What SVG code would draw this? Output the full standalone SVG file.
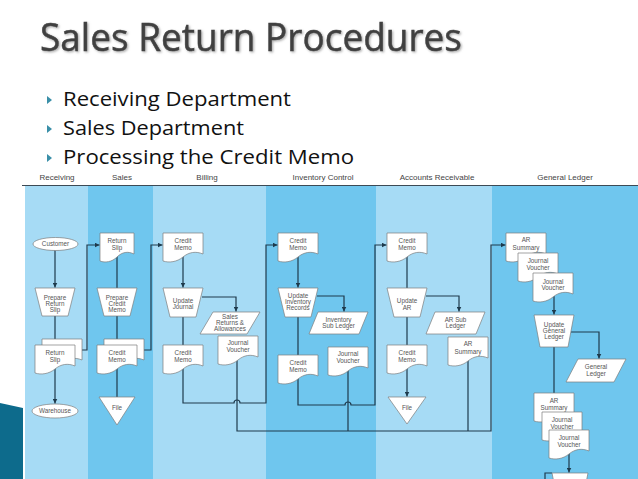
<svg xmlns="http://www.w3.org/2000/svg" xmlns:xlink="http://www.w3.org/1999/xlink" width="638" height="479" viewBox="0 0 638 479">
<style>
.title{font-family:"Open Sans","DejaVu Sans",sans-serif;font-size:39px;fill:#404040;stroke:#404040;stroke-width:0.5}
.bul{font-family:"Open Sans","DejaVu Sans",sans-serif;font-size:20.5px;fill:#111}
.hdr{font-family:"Liberation Sans",Arial,sans-serif;font-size:8px;fill:#444;text-anchor:middle}
.lbl{font-family:"Liberation Sans",Arial,sans-serif;font-size:6.3px;fill:#555;text-anchor:middle}
.node{fill:#fff;stroke:#7c7c7c;stroke-width:0.7}
.conn{fill:none;stroke:#1e3a4c;stroke-width:1.2}
.lane-l{fill:#a6dbf5}
.lane-d{fill:#6fc6ee}
</style>
<defs>
<filter id="shadow" x="-5%" y="-20%" width="110%" height="140%">
<feDropShadow dx="1.2" dy="1.2" stdDeviation="0.8" flood-color="#888" flood-opacity="0.7"/>
</filter>
<marker id="arr" markerUnits="userSpaceOnUse" markerWidth="5" markerHeight="5" viewBox="0 0 10 10" refX="10" refY="5" orient="auto">
<path d="M0,0 L10,5 L0,10 z" fill="#1e3a4c"/>
</marker>
<path id="doc" d="M0,0 H40 V21 C33,18 26,19 20,24 C14,29 6,30 0,28 Z"/>
</defs>

<rect width="638" height="479" fill="#fff"/>

<g id="title">
<text class="title" x="40" y="51" textLength="422" lengthAdjust="spacingAndGlyphs" filter="url(#shadow)">Sales Return Procedures</text>
</g>
<g id="bullets">
<polygon points="47,96 52,100 47,104" fill="#3a8fa8"/>
<polygon points="47,125 52,129 47,133" fill="#3a8fa8"/>
<polygon points="47,154 52,158 47,162" fill="#3a8fa8"/>
<text class="bul" x="63" y="106" textLength="228" lengthAdjust="spacingAndGlyphs">Receiving Department</text>
<text class="bul" x="63" y="135" textLength="181" lengthAdjust="spacingAndGlyphs">Sales Department</text>
<text class="bul" x="63" y="164" textLength="291" lengthAdjust="spacingAndGlyphs">Processing the Credit Memo</text>
</g>

<g id="decor">
<polygon points="0,403 23,408 23,479 0,479" fill="#0d6b8c"/>
</g>

<g id="lanes">
<rect class="lane-l" x="25" y="186" width="63" height="293"/>
<rect class="lane-d" x="88" y="186" width="65" height="293"/>
<rect class="lane-l" x="153" y="186" width="113" height="293"/>
<rect class="lane-d" x="266" y="186" width="110" height="293"/>
<rect class="lane-l" x="376" y="186" width="116" height="293"/>
<rect class="lane-d" x="492" y="186" width="146" height="293"/>
<line x1="22" y1="185.5" x2="638" y2="185.5" stroke="#3c4a55" stroke-width="1.2"/>
<text class="hdr" x="57" y="180">Receiving</text>
<text class="hdr" x="122" y="180">Sales</text>
<text class="hdr" x="207" y="180">Billing</text>
<text class="hdr" x="323" y="180">Inventory Control</text>
<text class="hdr" x="437" y="180">Accounts Receivable</text>
<text class="hdr" x="565" y="180">General Ledger</text>
</g>

<g id="connectors">
<path class="conn" d="M55,250 V287.5" marker-end="url(#arr)"/>
<path class="conn" d="M55,316 V346"/>
<path class="conn" d="M55,368 V403.5" marker-end="url(#arr)"/>
<path class="conn" d="M82,350 H87 V245 H99.5" marker-end="url(#arr)"/>
<path class="conn" d="M117,254 V289"/>
<path class="conn" d="M117,316 V346"/>
<path class="conn" d="M117,368 V398"/>
<path class="conn" d="M144,350 H151 V245 H162.5" marker-end="url(#arr)"/>
<path class="conn" d="M183,256 V287.5" marker-end="url(#arr)"/>
<path class="conn" d="M202,297 H236 V311.5" marker-end="url(#arr)"/>
<path class="conn" d="M183,317 V346"/>
<path class="conn" d="M183,368 V403 H234 A3,3 0 0 1 240,403 H266 V245 H277.5" marker-end="url(#arr)"/>
<path class="conn" d="M237,358 V431 H491 V245 H505.5" marker-end="url(#arr)"/>
<path class="conn" d="M298,256 V287.5" marker-end="url(#arr)"/>
<path class="conn" d="M317,296 H344 V311.5" marker-end="url(#arr)"/>
<path class="conn" d="M298,317 V356"/>
<path class="conn" d="M298,378 V405 H345 A3,3 0 0 1 351,405 H375 V245 H386.5" marker-end="url(#arr)"/>
<path class="conn" d="M348,369 V431"/>
<path class="conn" d="M407,256 V289"/>
<path class="conn" d="M426,296 H459 V311.5" marker-end="url(#arr)"/>
<path class="conn" d="M407,317 V346"/>
<path class="conn" d="M407,368 V396.5" marker-end="url(#arr)"/>
<path class="conn" d="M468,359 V431"/>
<path class="conn" d="M554,296 V314.5" marker-end="url(#arr)"/>
<path class="conn" d="M571,332 H599 V358.5" marker-end="url(#arr)"/>
<path class="conn" d="M554,347 V394"/>
<path class="conn" d="M569,452 V472.5" marker-end="url(#arr)"/>
<path class="conn" d="M545,479 V473 H552" stroke-width="0.8"/>
</g>

<g id="receiving-customer">
<ellipse class="node" cx="55.5" cy="244" rx="22.5" ry="6.5"/>
<text class="lbl" x="55.5" y="246.2">Customer</text>
</g>
<g id="receiving-prepare-return-slip">
<polygon class="node" points="35,288 75,288 68,316 42,316"/>
<text class="lbl" x="55" y="299.5">Prepare</text>
<text class="lbl" x="55" y="305.5">Return</text>
<text class="lbl" x="55" y="311.5">Slip</text>
</g>
<g id="receiving-return-slip">
<use href="#doc" class="node" x="42" y="339"/>
<use href="#doc" class="node" x="35" y="345"/>
<text class="lbl" x="55" y="355">Return</text>
<text class="lbl" x="55" y="361.5">Slip</text>
</g>
<g id="receiving-warehouse">
<ellipse class="node" cx="55" cy="411" rx="23" ry="7"/>
<text class="lbl" x="55" y="413.2">Warehouse</text>
</g>

<g id="sales-return-slip">
<path class="node" d="M100,233 H134 V254 C128,251 122,252 117,257 C112,262 105,263 100,261 Z"/>
<text class="lbl" x="117" y="243">Return</text>
<text class="lbl" x="117" y="249.5">Slip</text>
</g>
<g id="sales-prepare-credit-memo">
<polygon class="node" points="97,288 137,288 130,316 104,316"/>
<text class="lbl" x="117" y="299.5">Prepare</text>
<text class="lbl" x="117" y="305.5">Credit</text>
<text class="lbl" x="117" y="311.5">Memo</text>
</g>
<g id="sales-credit-memo">
<use href="#doc" class="node" x="104" y="339"/>
<use href="#doc" class="node" x="97" y="345"/>
<text class="lbl" x="117" y="355">Credit</text>
<text class="lbl" x="117" y="361.5">Memo</text>
</g>
<g id="sales-file">
<polygon class="node" points="99,397 135,397 117,425"/>
<text class="lbl" x="117" y="409.5">File</text>
</g>

<g id="billing-credit-memo">
<use href="#doc" class="node" x="163" y="233"/>
<text class="lbl" x="183" y="243">Credit</text>
<text class="lbl" x="183" y="250">Memo</text>
</g>
<g id="billing-update-journal">
<polygon class="node" points="163,288 203,288 196,317 170,317"/>
<text class="lbl" x="183" y="302.5">Update</text>
<text class="lbl" x="183" y="309">Journal</text>
</g>
<g id="billing-sales-returns">
<polygon class="node" points="213,312 260,312 247,334 200,334"/>
<text class="lbl" x="230" y="319">Sales</text>
<text class="lbl" x="230" y="325">Returns &amp;</text>
<text class="lbl" x="230" y="331">Allowances</text>
</g>
<g id="billing-journal-voucher">
<use href="#doc" class="node" x="218" y="336"/>
<text class="lbl" x="238" y="345">Journal</text>
<text class="lbl" x="238" y="352">Voucher</text>
</g>
<g id="billing-credit-memo-2">
<use href="#doc" class="node" x="163" y="345"/>
<text class="lbl" x="183" y="355">Credit</text>
<text class="lbl" x="183" y="361.5">Memo</text>
</g>

<g id="inventory-credit-memo">
<use href="#doc" class="node" x="278" y="233"/>
<text class="lbl" x="298" y="243">Credit</text>
<text class="lbl" x="298" y="250">Memo</text>
</g>
<g id="inventory-update-records">
<polygon class="node" points="278,288 318,288 311,317 285,317"/>
<text class="lbl" x="298" y="298">Update</text>
<text class="lbl" x="298" y="304">Inventory</text>
<text class="lbl" x="298" y="310">Records</text>
</g>
<g id="inventory-sub-ledger">
<polygon class="node" points="318,312 368,312 359,334 309,334"/>
<text class="lbl" x="338.5" y="322">Inventory</text>
<text class="lbl" x="338.5" y="328">Sub Ledger</text>
</g>
<g id="inventory-journal-voucher">
<use href="#doc" class="node" x="328" y="347"/>
<text class="lbl" x="348" y="356">Journal</text>
<text class="lbl" x="348" y="362.5">Voucher</text>
</g>
<g id="inventory-credit-memo-2">
<use href="#doc" class="node" x="278" y="355"/>
<text class="lbl" x="298" y="365">Credit</text>
<text class="lbl" x="298" y="371.5">Memo</text>
</g>

<g id="ar-credit-memo">
<use href="#doc" class="node" x="387" y="233"/>
<text class="lbl" x="407" y="243">Credit</text>
<text class="lbl" x="407" y="250">Memo</text>
</g>
<g id="ar-update-ar">
<polygon class="node" points="387,288 427,288 420,317 394,317"/>
<text class="lbl" x="407" y="303">Update</text>
<text class="lbl" x="407" y="309.5">AR</text>
</g>
<g id="ar-sub-ledger">
<polygon class="node" points="435,312 485,312 476,334 426,334"/>
<text class="lbl" x="455.5" y="322">AR Sub</text>
<text class="lbl" x="455.5" y="328">Ledger</text>
</g>
<g id="ar-summary">
<use href="#doc" class="node" x="448" y="337"/>
<text class="lbl" x="468" y="346">AR</text>
<text class="lbl" x="468" y="353.5">Summary</text>
</g>
<g id="ar-credit-memo-2">
<use href="#doc" class="node" x="387" y="345"/>
<text class="lbl" x="407" y="355">Credit</text>
<text class="lbl" x="407" y="361.5">Memo</text>
</g>
<g id="ar-file">
<polygon class="node" points="388,397 426,397 407,424"/>
<text class="lbl" x="407" y="409.5">File</text>
</g>

<g id="gl-ar-summary">
<use href="#doc" class="node" x="506" y="233"/>
<text class="lbl" x="526" y="242">AR</text>
<text class="lbl" x="526" y="249.5">Summary</text>
</g>
<g id="gl-journal-voucher-1">
<use href="#doc" class="node" x="518" y="253"/>
<text class="lbl" x="538" y="263">Journal</text>
<text class="lbl" x="538" y="269.5">Voucher</text>
</g>
<g id="gl-journal-voucher-2">
<use href="#doc" class="node" x="533" y="273"/>
<text class="lbl" x="553" y="284">Journal</text>
<text class="lbl" x="553" y="290">Voucher</text>
</g>
<g id="gl-update-general-ledger">
<polygon class="node" points="534,315 574,315 568,347 540,347"/>
<text class="lbl" x="554" y="327">Update</text>
<text class="lbl" x="554" y="333">General</text>
<text class="lbl" x="554" y="339">Ledger</text>
</g>
<g id="gl-general-ledger">
<polygon class="node" points="578,359 626,359 614,382 566,382"/>
<text class="lbl" x="596" y="369">General</text>
<text class="lbl" x="596" y="375.5">Ledger</text>
</g>
<g id="gl-ar-summary-2">
<use href="#doc" class="node" x="534" y="393"/>
<text class="lbl" x="554" y="403">AR</text>
<text class="lbl" x="554" y="410">Summary</text>
</g>
<g id="gl-journal-voucher-3">
<use href="#doc" class="node" x="542" y="412"/>
<text class="lbl" x="562" y="422">Journal</text>
<text class="lbl" x="562" y="429">Voucher</text>
</g>
<g id="gl-journal-voucher-4">
<use href="#doc" class="node" x="549" y="430"/>
<text class="lbl" x="569" y="440">Journal</text>
<text class="lbl" x="569" y="446.5">Voucher</text>
</g>
<g id="gl-bottom-process">
<polygon class="node" points="552,473 588,473 586,483 554,483"/>
</g>
</svg>
